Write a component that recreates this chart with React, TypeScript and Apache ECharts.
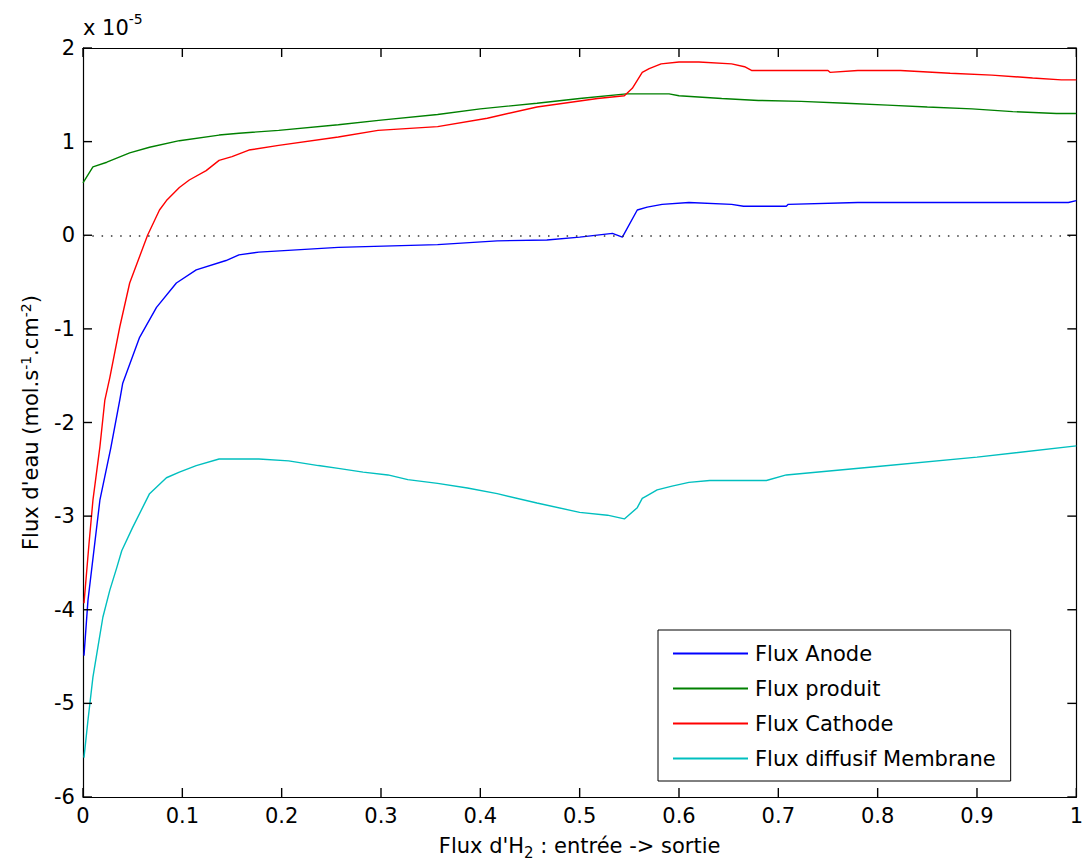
import React, { useEffect, useRef } from "react";
import * as echarts from "echarts";

// ---- Data (values in units of 1e-5 mol.s-1.cm-2) ----
const seriesNames = ["Flux Anode", "Flux produit", "Flux Cathode", "Flux diffusif Membrane"];

const anodeX = [0.001, 0.005, 0.017, 0.028, 0.037, 0.04, 0.057, 0.074, 0.094, 0.114, 0.144, 0.157, 0.177, 0.257, 0.357, 0.417, 0.467, 0.5, 0.533, 0.543, 0.558, 0.568, 0.583, 0.61, 0.653, 0.665, 0.708, 0.71, 0.78, 0.992, 1.0];
const anodeY = [-4.49, -3.9, -2.83, -2.27, -1.76, -1.58, -1.09, -0.77, -0.51, -0.37, -0.27, -0.21, -0.18, -0.13, -0.1, -0.06, -0.05, -0.02, 0.02, -0.02, 0.27, 0.3, 0.33, 0.35, 0.33, 0.31, 0.31, 0.33, 0.35, 0.35, 0.37];

const produitX = [0, 0.01, 0.024, 0.047, 0.067, 0.097, 0.137, 0.157, 0.197, 0.257, 0.3, 0.357, 0.4, 0.457, 0.5, 0.547, 0.59, 0.6, 0.643, 0.68, 0.723, 0.768, 0.81, 0.85, 0.895, 0.936, 0.98, 1.0];
const produitY = [0.56, 0.73, 0.78, 0.88, 0.94, 1.01, 1.07, 1.09, 1.12, 1.18, 1.23, 1.29, 1.35, 1.41, 1.46, 1.51, 1.51, 1.49, 1.46, 1.44, 1.43, 1.41, 1.39, 1.37, 1.35, 1.32, 1.3, 1.3];

const cathodeX = [0.001, 0.006, 0.01, 0.017, 0.022, 0.027, 0.037, 0.047, 0.065, 0.077, 0.084, 0.097, 0.107, 0.124, 0.137, 0.15, 0.167, 0.197, 0.257, 0.297, 0.357, 0.407, 0.457, 0.518, 0.545, 0.553, 0.563, 0.57, 0.582, 0.6, 0.62, 0.653, 0.666, 0.673, 0.75, 0.752, 0.78, 0.823, 0.873, 0.915, 0.956, 0.985, 1.0];
const cathodeY = [-3.93, -3.3, -2.83, -2.26, -1.76, -1.52, -0.98, -0.51, 0, 0.27, 0.37, 0.51, 0.59, 0.69, 0.8, 0.84, 0.91, 0.96, 1.05, 1.12, 1.16, 1.25, 1.37, 1.46, 1.49, 1.57, 1.74, 1.78, 1.83, 1.85, 1.85, 1.83, 1.8, 1.76, 1.76, 1.74, 1.76, 1.76, 1.73, 1.71, 1.68, 1.66, 1.66];

const membraneX = [0.001, 0.005, 0.01, 0.015, 0.02, 0.027, 0.034, 0.039, 0.05, 0.067, 0.084, 0.097, 0.114, 0.137, 0.177, 0.207, 0.237, 0.257, 0.282, 0.307, 0.327, 0.357, 0.387, 0.417, 0.457, 0.5, 0.528, 0.545, 0.558, 0.563, 0.568, 0.578, 0.593, 0.61, 0.631, 0.688, 0.708, 0.8, 0.9, 1.0];
const membraneY = [-5.58, -5.18, -4.72, -4.4, -4.08, -3.79, -3.55, -3.37, -3.12, -2.76, -2.59, -2.53, -2.46, -2.39, -2.39, -2.41, -2.46, -2.49, -2.53, -2.56, -2.61, -2.65, -2.7, -2.76, -2.86, -2.96, -2.99, -3.03, -2.91, -2.81, -2.78, -2.72, -2.68, -2.64, -2.62, -2.62, -2.56, -2.47, -2.37, -2.25];

const colors = ["#0000ff", "#008000", "#ff0000", "#00bfbf"];

// Axis ranges and tick values
const xMin = 0;
const xMax = 1;
const xStep = 0.1;
const yMin = -6;
const yMax = 2;
const yStep = 1;
const xTicks = [0, 0.1, 0.2, 0.3, 0.4, 0.5, 0.6, 0.7, 0.8, 0.9, 1];
const yTicks = [-6, -5, -4, -3, -2, -1, 0, 1, 2];

const FONT = "DejaVu Sans";
const TICK_LEN = 9;

function pairs(xs: number[], ys: number[]) {
  return xs.map((x, i) => [x, ys[i]]);
}

function axisLine() {
  return { show: true, onZero: false, lineStyle: { color: "#000", width: 1.2 } };
}
function labelStyle() {
  return { fontFamily: FONT, fontSize: 21, color: "#000" };
}

const exponentText = {
  type: "text",
  left: 83,
  top: 12,
  style: {
    text: "{a|x 10}{b|-5}",
    rich: {
      a: { fontFamily: FONT, fontSize: 21, fill: "#000", lineHeight: 26, verticalAlign: "bottom" },
      b: { fontFamily: FONT, fontSize: 14, fill: "#000", lineHeight: 14, verticalAlign: "top" },
    },
  },
};

export default function App() {
  const ref = useRef<HTMLDivElement>(null);

  useEffect(() => {
    if (!ref.current) return;
    const chart = echarts.init(ref.current, undefined, { renderer: "svg" });
    const datasets = [
      pairs(anodeX, anodeY),
      pairs(produitX, produitY),
      pairs(cathodeX, cathodeY),
      pairs(membraneX, membraneY),
    ];

    chart.setOption({
      animation: false,
      backgroundColor: "#fff",
      grid: { left: 83, top: 48, width: 999, height: 749, containLabel: false },
      xAxis: [
        {
          type: "value",
          min: xMin,
          max: xMax,
          interval: xStep,
          position: "bottom",
          axisLine: axisLine(),
          axisTick: { show: false },
          splitLine: { show: false },
          axisLabel: {
            ...labelStyle(),
            margin: 8,
            formatter: (v: number) => String(Number(v.toFixed(1))),
          },
          name: "Flux d'H{sub|2} : entrée -> sortie",
          nameLocation: "middle",
          nameGap: 38,
          nameTextStyle: {
            ...labelStyle(),
            lineHeight: 24,
            verticalAlign: "middle",
            rich: {
              sub: { fontFamily: FONT, fontSize: 15, color: "#000", verticalAlign: "bottom", lineHeight: 30 },
            },
          },
        },
        {
          type: "value",
          min: xMin,
          max: xMax,
          interval: xStep,
          position: "top",
          axisLine: axisLine(),
          axisTick: { show: false },
          axisLabel: { show: false },
          splitLine: { show: false },
        },
      ],
      yAxis: [
        {
          type: "value",
          min: yMin,
          max: yMax,
          interval: yStep,
          position: "left",
          axisLine: axisLine(),
          axisTick: { show: false },
          splitLine: { show: false },
          axisLabel: { ...labelStyle(), margin: 8 },
          name: "Flux d'eau (mol.s{sup|-1}.cm{sup|-2})",
          nameLocation: "middle",
          nameGap: 40,
          nameTextStyle: {
            ...labelStyle(),
            lineHeight: 24,
            rich: {
              sup: { fontFamily: FONT, fontSize: 14, color: "#000", verticalAlign: "top", lineHeight: 14 },
            },
          },
        },
        {
          type: "value",
          min: yMin,
          max: yMax,
          interval: yStep,
          position: "right",
          axisLine: axisLine(),
          axisTick: { show: false },
          axisLabel: { show: false },
          splitLine: { show: false },
        },
      ],
      legend: {
        orient: "vertical",
        left: 658,
        top: 630,
        data: seriesNames,
        icon: "rect",
        itemWidth: 75,
        itemHeight: 2,
        itemGap: 14,
        backgroundColor: "#fff",
        borderColor: "#000",
        borderWidth: 1,
        padding: [13, 15, 12, 15],
        textStyle: { fontFamily: FONT, fontSize: 21, color: "#000", lineHeight: 20, padding: [0, 0, 0, 2] },
      },
      graphic: [exponentText],
      series: datasets.map((d, i) => ({
        name: seriesNames[i],
        type: "line",
        data: d,
        showSymbol: false,
        symbol: "none",
        smooth: false,
        color: colors[i],
        lineStyle: { color: colors[i], width: 1.4 },
        z: 3,
        markLine:
          i === 0
            ? {
                silent: true,
                symbol: ["none", "none"],
                label: { show: false },
                lineStyle: { color: "#333", width: 1.5, type: [1.5, 7.8] },
                data: [{ yAxis: 0 }],
              }
            : undefined,
      })),
    });

    // Inward ticks on all four sides, positioned through the chart's own scales
    const finder = { xAxisIndex: 0, yAxisIndex: 0 };
    const tickStyle = { stroke: "#000", lineWidth: 1.4 };
    const tickEls: any[] = [];
    xTicks.forEach((xv) => {
      const b = chart.convertToPixel(finder, [xv, yMin]) as number[];
      const t = chart.convertToPixel(finder, [xv, yMax]) as number[];
      tickEls.push({ type: "line", silent: true, z: 10, shape: { x1: b[0], y1: b[1], x2: b[0], y2: b[1] - TICK_LEN }, style: tickStyle });
      tickEls.push({ type: "line", silent: true, z: 10, shape: { x1: t[0], y1: t[1], x2: t[0], y2: t[1] + TICK_LEN }, style: tickStyle });
    });
    yTicks.forEach((yv) => {
      const l = chart.convertToPixel(finder, [xMin, yv]) as number[];
      const r = chart.convertToPixel(finder, [xMax, yv]) as number[];
      tickEls.push({ type: "line", silent: true, z: 10, shape: { x1: l[0], y1: l[1], x2: l[0] + TICK_LEN, y2: l[1] }, style: tickStyle });
      tickEls.push({ type: "line", silent: true, z: 10, shape: { x1: r[0], y1: r[1], x2: r[0] - TICK_LEN, y2: r[1] }, style: tickStyle });
    });
    chart.setOption({ graphic: [exponentText, ...tickEls] });

    return () => chart.dispose();
  }, []);

  return (
    <div
      ref={ref}
      style={{ position: "absolute", left: 0, top: 0, width: 1086, height: 868 }}
    />
  );
}
